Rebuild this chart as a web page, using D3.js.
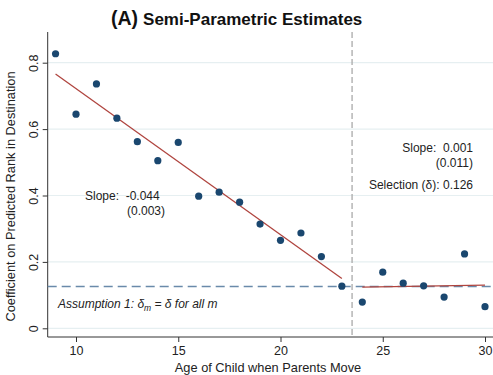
<!DOCTYPE html>
<html>
<head>
<meta charset="utf-8">
<script src="https://cdn.jsdelivr.net/npm/d3@7"></script>
<style>
  html, body { margin: 0; padding: 0; background: #fff; }
  svg { display: block; font-family: "Liberation Sans", Arial, sans-serif; }
</style>
</head>
<body>
<svg id="chart" width="493" height="375"></svg>
<script>
// Coefficient on predicted rank by age of child when parents move
const ages = [9, 10, 11, 12, 13, 14, 15, 16, 17, 18, 19, 20, 21, 22, 23, 24, 25, 26, 27, 28, 29, 30];
const coefs = [0.827, 0.645, 0.736, 0.633, 0.562, 0.505, 0.560, 0.398, 0.410, 0.380, 0.314, 0.265,
               0.287, 0.216, 0.127, 0.079, 0.169, 0.136, 0.128, 0.094, 0.224, 0.065];

// Fitted lines: [age, value] end points
const fitBefore = [[9, 0.766], [23, 0.150]];
const fitAfter = [[24, 0.124], [30, 0.130]];

const selection = 0.126;   // horizontal reference (delta)
const breakAge = 23.5;     // vertical separator

const xTicks = [10, 15, 20, 25, 30];
const yTicks = [0, 0.2, 0.4, 0.6, 0.8];
const yTickLabels = ["0", "0.2", "0.4", "0.6", "0.8"];

const svg = d3.select("#chart");

const plotLeft = 47.7, plotRight = 493, plotTop = 32, plotBottom = 337;

const x = d3.scaleLinear().domain([10, 30]).range([76, 485]);
const y = d3.scaleLinear().domain([0, 0.8]).range([328.3, 62.7]);

// Gridlines
svg.append("g")
  .selectAll("line")
  .data(yTicks)
  .join("line")
  .attr("x1", plotLeft).attr("x2", plotRight)
  .attr("y1", d => y(d)).attr("y2", d => y(d))
  .attr("stroke", "#e6eff1").attr("stroke-width", 1.2);

// Y axis with vertical tick labels
const yAxis = d3.axisLeft(y).tickValues(yTicks).tickSize(5).tickFormat((d, i) => yTickLabels[i]);
const gy = svg.append("g").attr("transform", `translate(${plotLeft},0)`).call(yAxis);
gy.select(".domain").remove();
gy.append("line").attr("x1", 0).attr("x2", 0).attr("y1", plotTop).attr("y2", plotBottom)
  .attr("stroke", "#333").attr("stroke-width", 1);
gy.selectAll(".tick line").attr("stroke", "#333");
gy.selectAll(".tick text")
  .attr("font-size", 12.5).attr("fill", "#222")
  .attr("transform", "rotate(-90)")
  .attr("x", 0).attr("y", -10).attr("dy", "0")
  .attr("text-anchor", "middle");

// X axis
const xAxis = d3.axisBottom(x).tickValues(xTicks).tickSize(5).tickFormat(d3.format("d"));
const gx = svg.append("g").attr("transform", `translate(0,${plotBottom})`).call(xAxis);
gx.select(".domain").remove();
gx.append("line").attr("x1", plotLeft).attr("x2", plotRight).attr("y1", 0).attr("y2", 0)
  .attr("stroke", "#333").attr("stroke-width", 1);
gx.selectAll(".tick line").attr("stroke", "#333");
gx.selectAll(".tick text").attr("font-size", 12.5).attr("fill", "#222").attr("y", 9);

// Axis titles
svg.append("text")
  .attr("x", 268).attr("y", 372)
  .attr("text-anchor", "middle").attr("font-size", 12.8).attr("fill", "#222")
  .text("Age of Child when Parents Move");

svg.append("text")
  .attr("transform", `translate(15,${(plotTop + plotBottom) / 2 + 12}) rotate(-90)`)
  .attr("text-anchor", "middle").attr("font-size", 12.8).attr("fill", "#222")
  .text("Coefficient on Predicted Rank in Destination");

// Title
const title = svg.append("text").attr("x", 111).attr("y", 25).attr("fill", "#111").attr("font-weight", "bold");
title.append("tspan").attr("font-size", 19.5).text("(A)");
title.append("tspan").attr("font-size", 17).attr("dx", 5).text("Semi-Parametric Estimates");

// Vertical separator
svg.append("line")
  .attr("x1", x(breakAge)).attr("x2", x(breakAge))
  .attr("y1", plotTop).attr("y2", plotBottom)
  .attr("stroke", "#aaaaaa").attr("stroke-width", 1.3).attr("stroke-dasharray", "6,3");

// Horizontal selection line
svg.append("line")
  .attr("x1", plotLeft).attr("x2", plotRight)
  .attr("y1", y(selection)).attr("y2", y(selection))
  .attr("stroke", "#6a8aaa").attr("stroke-width", 1.5).attr("stroke-dasharray", "9,5");

// Fit lines
const line = d3.line().x(d => x(d[0])).y(d => y(d[1]));
[fitBefore, fitAfter].forEach(seg => {
  svg.append("path").attr("d", line(seg))
    .attr("fill", "none").attr("stroke", "#b0453f").attr("stroke-width", 1.3);
});

// Points
svg.append("g")
  .selectAll("circle")
  .data(ages.map((a, i) => [a, coefs[i]]))
  .join("circle")
  .attr("cx", d => x(d[0])).attr("cy", d => y(d[1]))
  .attr("r", 3.6).attr("fill", "#1a476f");

// Annotations
const ann = svg.append("g").attr("font-size", 12).attr("fill", "#222");
ann.append("text").attr("x", 85).attr("y", 200).attr("xml:space", "preserve").text("Slope:  -0.044");
ann.append("text").attr("x", 127).attr("y", 215).text("(0.003)");
ann.append("text").attr("x", 473).attr("y", 152).attr("text-anchor", "end").attr("xml:space", "preserve").text("Slope:  0.001");
ann.append("text").attr("x", 473).attr("y", 167).attr("text-anchor", "end").text("(0.011)");
ann.append("text").attr("x", 473).attr("y", 189).attr("text-anchor", "end").text("Selection (\u03B4): 0.126");

const as = ann.append("text").attr("x", 58).attr("y", 308).attr("font-style", "italic");
as.append("tspan").text("Assumption 1: ");
as.append("tspan").text("\u03B4");
as.append("tspan").attr("font-size", 8.5).attr("dy", 3).text("m");
as.append("tspan").attr("dy", -3).attr("xml:space", "preserve").text(" = \u03B4 for all m");
</script>
</body>
</html>
